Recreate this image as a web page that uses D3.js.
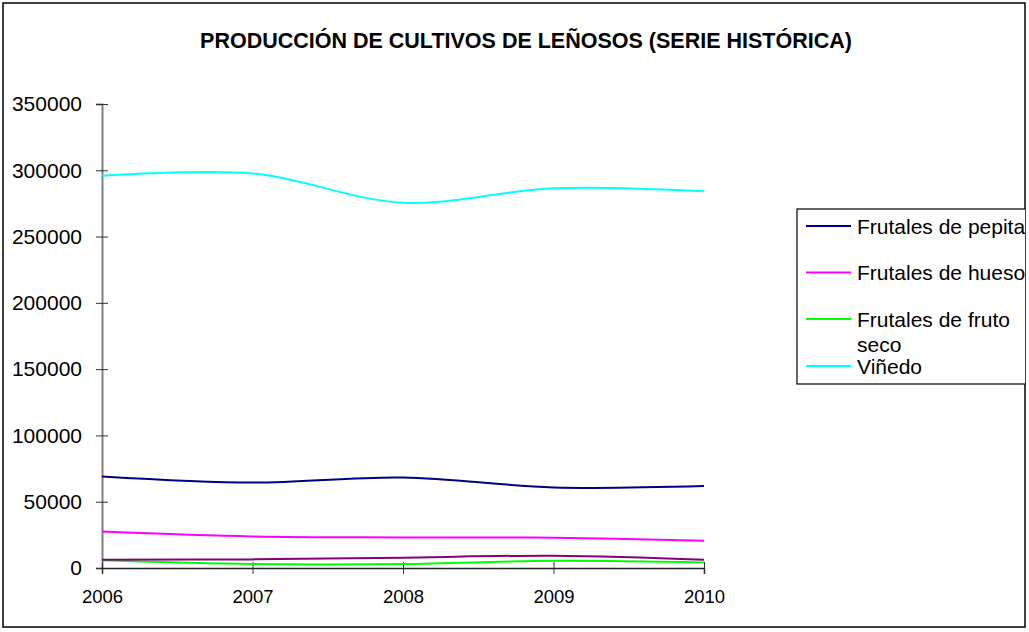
<!DOCTYPE html>
<html>
<head>
<meta charset="utf-8">
<script src="https://cdn.jsdelivr.net/npm/d3@7"></script>
<style>
  body { margin: 0; background: #fff; }
  text { font-family: "Liberation Sans", Arial, sans-serif; }
</style>
</head>
<body>
<div id="chart"></div>
<script>
const width = 1029;
const height = 632;
const margin = { top: 104, right: 325, bottom: 64, left: 102 };

const years = ["2006", "2007", "2008", "2009", "2010"];
const yTicks = [0, 50000, 100000, 150000, 200000, 250000, 300000, 350000];

// produccion (t)
const pepita = [69100, 64500, 68300, 60800, 61800];
const hueso = [27500, 23800, 23100, 22900, 20600];
const frutoSeco = [5800, 3000, 3000, 5500, 4200];
const vinedo = [295900, 297600, 275500, 286500, 284200];
const otros = [6300, 6500, 7800, 9300, 6300];

const seriesNames = ["Frutales de pepita", "Frutales de hueso", "Frutales de fruto seco", "Viñedo"];
const seriesColors = ["#000080", "#ff00ff", "#00ff00", "#00ffff"];

const series = [
  { name: seriesNames[0], color: seriesColors[0], values: pepita },
  { name: seriesNames[1], color: seriesColors[1], values: hueso },
  { name: seriesNames[2], color: seriesColors[2], values: frutoSeco },
  { name: seriesNames[3], color: seriesColors[3], values: vinedo },
  { name: "", color: "#800080", values: otros }
];

const svg = d3
  .select("#chart")
  .append("svg")
  .attr("width", width)
  .attr("height", height);

svg
  .append("defs")
  .append("clipPath")
  .attr("id", "frame")
  .append("rect")
  .attr("x", 3)
  .attr("y", 3)
  .attr("width", 1022)
  .attr("height", 624);

svg
  .append("rect")
  .attr("x", 3)
  .attr("y", 3)
  .attr("width", 1022)
  .attr("height", 624)
  .attr("fill", "#fff")
  .attr("stroke", "#000")
  .attr("stroke-width", 1.5);

svg
  .append("text")
  .attr("x", 526)
  .attr("y", 48)
  .attr("text-anchor", "middle")
  .style("font-size", "21.5px")
  .style("font-weight", "bold")
  .text("PRODUCCIÓN DE CULTIVOS DE LEÑOSOS (SERIE HISTÓRICA)");

const innerW = width - margin.left - margin.right;
const innerH = height - margin.top - margin.bottom;

const xScale = d3
  .scalePoint()
  .domain(years)
  .range([0, innerW]);

const yScale = d3
  .scaleLinear()
  .domain([0, 350000])
  .range([innerH, 0]);

const chart = svg
  .append("g")
  .attr("transform", `translate(${margin.left}, ${margin.top})`);

// eje y
const yAxis = chart.append("g").call(
  d3
    .axisLeft(yScale)
    .tickValues(yTicks)
    .tickFormat(d3.format("d"))
    .tickSize(6)
    .tickPadding(14)
);
yAxis.select(".domain").attr("stroke", "#808080").attr("stroke-width", 2);
yAxis
  .selectAll(".tick line")
  .attr("x1", 6)
  .attr("x2", -6)
  .attr("stroke", "#333");
yAxis
  .selectAll(".tick text")
  .style("font-size", "21px")
  .attr("fill", "#000");

// eje x
const xAxis = chart
  .append("g")
  .attr("transform", `translate(0, ${innerH})`)
  .call(d3.axisBottom(xScale).tickSize(6).tickPadding(16));
xAxis.select(".domain").attr("stroke", "#222").attr("stroke-width", 1.5);
xAxis
  .selectAll(".tick line")
  .attr("y1", -6)
  .attr("y2", 6)
  .attr("stroke", "#333");
xAxis
  .selectAll(".tick text")
  .style("font-size", "18.5px")
  .attr("fill", "#000");

const line = d3
  .line()
  .x((d, i) => xScale(years[i]))
  .y(d => yScale(d))
  .curve(d3.curveCatmullRom);

chart
  .selectAll(".serie")
  .data(series)
  .enter()
  .append("path")
  .attr("class", "serie")
  .attr("fill", "none")
  .attr("stroke", d => d.color)
  .attr("stroke-width", 2)
  .attr("d", d => line(d.values));

// leyenda
const legend = svg
  .append("g")
  .attr("clip-path", "url(#frame)");

legend
  .append("rect")
  .attr("x", 797)
  .attr("y", 209)
  .attr("width", 260)
  .attr("height", 175)
  .attr("fill", "#fff")
  .attr("stroke", "#000")
  .attr("stroke-width", 1.2);

const legendRows = [
  { lines: ["Frutales de pepita"], y: 226 },
  { lines: ["Frutales de hueso"], y: 272.5 },
  { lines: ["Frutales de fruto", "seco"], y: 319 },
  { lines: ["Viñedo"], y: 366 }
];

const legendItem = legend
  .selectAll(".item")
  .data(legendRows)
  .enter()
  .append("g")
  .attr("class", "item");

legendItem
  .append("line")
  .attr("x1", 806)
  .attr("x2", 851)
  .attr("y1", d => d.y)
  .attr("y2", d => d.y)
  .attr("stroke", (d, i) => seriesColors[i])
  .attr("stroke-width", 2);

legendItem
  .append("text")
  .attr("x", 857)
  .attr("y", d => d.y + 7.5)
  .style("font-size", "21px")
  .selectAll("tspan")
  .data(d => d.lines)
  .enter()
  .append("tspan")
  .attr("x", 857)
  .attr("dy", (d, i) => (i === 0 ? 0 : 25))
  .text(d => d);
</script>
</body>
</html>
